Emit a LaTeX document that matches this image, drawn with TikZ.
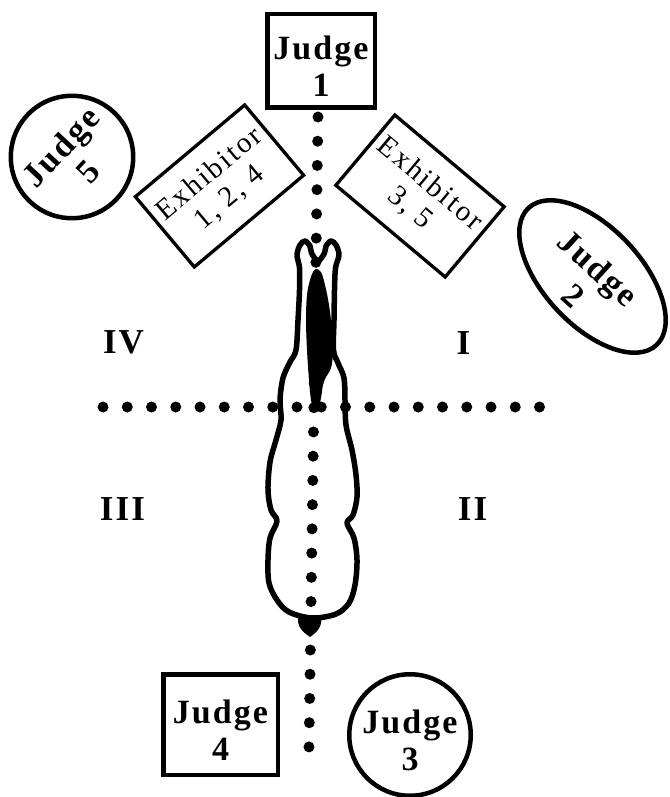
\documentclass[tikz,border=0pt]{standalone}
\usepackage{fontspec}
\setmainfont{Liberation Serif}
\newfontfamily\judgeface[LetterSpace=6]{Liberation Serif}
\newfontfamily\exhface[LetterSpace=8]{Liberation Serif}
\usetikzlibrary{shapes.geometric}
\begin{document}
\begin{tikzpicture}[x=1pt,y=-1pt,
  judgefont/.style={font=\judgeface\bfseries\fontsize{34}{37}\selectfont, align=center, inner sep=0pt},
  judgebox/.style={draw, line width=4.5pt, rectangle, judgefont},
  judgecirc/.style={draw, line width=4.5pt, circle, judgefont},
  exhbox/.style={draw, line width=3.3pt, rectangle, inner sep=0pt,
    minimum width=142.7pt, minimum height=91.7pt,
    font=\exhface\fontsize{29}{31}\selectfont, align=center},
  dotline/.style={line width=11pt, line cap=round, dash pattern=on 0pt off #1},
  quad/.style={font=\judgeface\bfseries\fontsize{35}{35}\selectfont, inner sep=0pt},
  outline/.style={line width=5.5pt, line join=round},
]
\useasboundingbox (0,0) rectangle (669,797);

% dotted reference lines
\coordinate (vtop) at (318,117);
\coordinate (vbot) at (308.95,748);
\draw[dotline=24.23pt] (vtop) -- (vbot);
\coordinate (hl) at (103,407);
\coordinate (hr) at (540,407);
\draw[dotline=24.25pt] (hl) -- (hr);

% animal seen from above
\draw[outline] plot[smooth cycle, tension=0.55] coordinates {
  (296,350) (298,320) (299.5,290) (299.5,268) (297,255) (300,245) (305,241)
  (310,246) (311.5,253) (318,261) (324.5,253) (326,246) (331,241) (336,245)
  (339,255) (335.5,268) (334.5,290) (334,320) (333.5,350) (338,363) (344,378)
  (345,400) (346,425) (352,450) (356,475) (357,497) (353,515) (347,523)
  (354,538) (357,560) (355,585) (349,603) (336,614) (312,618) (289,612)
  (277,600) (269,583) (268,560) (270,538) (277,521) (271,510) (268,490)
  (270,462) (276,440) (281,420) (280,400) (283,378) (290,362)};
\fill plot[smooth cycle, tension=0.6] coordinates {
  (316,269) (321,272) (325,285) (329,305) (332,330) (333,352) (331,368)
  (326,377) (323,385) (321,398) (318,409) (314,410) (311,400) (309,380)
  (307,350) (306,320) (307,295) (310,280) (313,272)};
\fill (298.5,615) .. controls (296,627) and (303,632) .. (310,637)
  .. controls (317,632) and (323,627) .. (321,615) -- cycle;

% judges
\node[judgebox, minimum width=107.5pt, minimum height=93.5pt] (j1) at (321,61)
  {\rule{0pt}{34pt}Judge\\1};
\node[judgebox, minimum width=114.5pt, minimum height=100.5pt] (j4) at (220.5,724.5)
  {\rule{0pt}{34pt}Judge\\4};
\node[judgecirc, minimum size=121.5pt] (j3) at (410,735)
  {\rule{0pt}{34pt}Judge\\3};
\node[judgecirc, minimum size=122.5pt, rotate=47] (j5) at (72,157)
  {\rule{0pt}{30pt}Judge\\5};
\node[draw, ellipse, line width=4.5pt, minimum width=187.5pt, minimum height=97.5pt,
  inner sep=0pt, rotate=-47] (j2) at (592.5,276.5) {};
\node[judgefont, rotate=-42] (j2t) at (588,279) {\rule{0pt}{30pt}Judge\\2};

% exhibitors
\node[exhbox, rotate=40] (e1) at (219.5,186) {Exhibitor\\1, 2, 4};
\node[exhbox, rotate=-40] (e2) at (420,196) {Exhibitor\\3, 5};

% quadrants
\node[quad] (q4) at (123.5,342) {IV};
\node[quad] (q1) at (463.5,343) {I};
\node[quad] (q3) at (122.5,509) {III};
\node[quad] (q2) at (472.5,509) {II};
\end{tikzpicture}
\end{document}
